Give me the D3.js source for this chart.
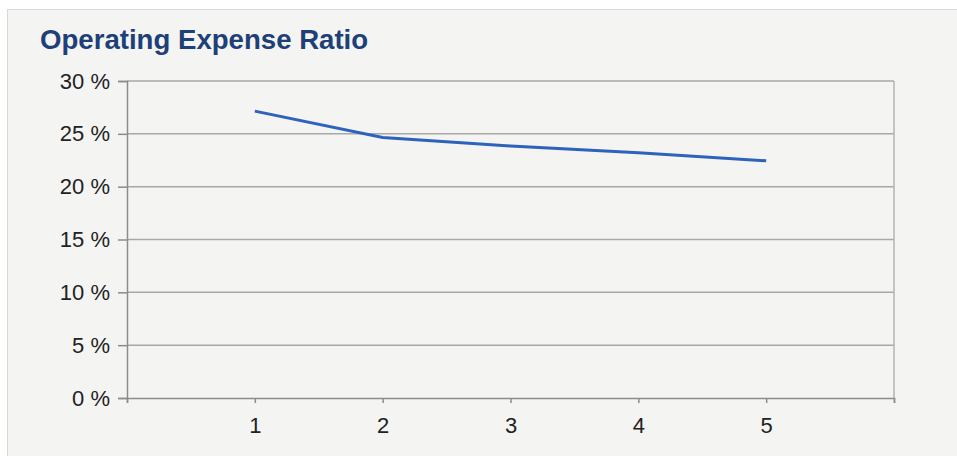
<!DOCTYPE html>
<html>
<head>
<meta charset="utf-8">
<script src="https://cdn.jsdelivr.net/npm/d3@7"></script>
<style>
  body { margin: 0; background: #ffffff; }
  text { font-family: "Liberation Sans", Arial, sans-serif; }
</style>
</head>
<body>
<script>
// chart data
var years = [1, 2, 3, 4, 5];
var ratio = [27.15, 24.65, 23.85, 23.2, 22.45];
var yTicks = [0, 5, 10, 15, 20, 25, 30];
var title = "Operating Expense Ratio";

var width = 957, height = 456;
var margin = {top: 81, right: 63, bottom: 58, left: 127};

var svg = d3.select("body").append("svg")
  .attr("width", width).attr("height", height);

// panel background + border
svg.append("rect")
  .attr("x", 7.5).attr("y", 9.5)
  .attr("width", width - 7).attr("height", height)
  .attr("fill", "#f4f4f2")
  .attr("stroke", "#d8d8d8");

var x = d3.scaleLinear().domain([0, 6]).range([margin.left, width - margin.right]);
var y = d3.scaleLinear().domain([0, 30]).range([height - margin.bottom, margin.top]);

// gridlines
svg.append("g").selectAll("line")
  .data(yTicks.slice(1))
  .enter().append("line")
  .attr("x1", x(0)).attr("x2", x(6))
  .attr("y1", function(d) { return y(d); })
  .attr("y2", function(d) { return y(d); })
  .attr("stroke", "#a8a8a8").attr("stroke-width", 1.5);

// right border of plot
svg.append("line")
  .attr("x1", x(6)).attr("x2", x(6))
  .attr("y1", y(30)).attr("y2", y(0))
  .attr("stroke", "#b4b4b4").attr("stroke-width", 1.5);

// y axis
var yAxis = d3.axisLeft(y).tickValues(yTicks)
  .tickFormat(function(d) { return d + " %"; })
  .tickSize(9).tickPadding(8);
var gy = svg.append("g")
  .attr("transform", "translate(" + x(0) + ",0)")
  .call(yAxis);

// x axis
var xAxis = d3.axisBottom(x).tickValues([0, 1, 2, 3, 4, 5, 6])
  .tickFormat(function(d) { return years.indexOf(d) >= 0 ? d : ""; })
  .tickSize(5).tickPadding(14);
var gx = svg.append("g")
  .attr("transform", "translate(0," + y(0) + ")")
  .call(xAxis);

[gx, gy].forEach(function(g) {
  g.select(".domain").attr("stroke", "#8c8c8c").attr("stroke-width", 1.5);
  g.selectAll(".tick line").attr("stroke", "#8c8c8c").attr("stroke-width", 1.5);
  g.selectAll(".tick text")
    .attr("fill", "#222222")
    .style("font-size", "22px")
    .style("font-family", "'Liberation Sans', Arial, sans-serif");
});

// line
var line = d3.line()
  .x(function(d, i) { return x(years[i]); })
  .y(function(d) { return y(d); });

svg.append("path")
  .datum(ratio)
  .attr("d", line)
  .attr("fill", "none")
  .attr("stroke", "#2d62bd")
  .attr("stroke-width", 3);

// title
svg.append("text")
  .attr("x", 40).attr("y", 49)
  .attr("fill", "#1e3f78")
  .style("font-size", "27.6px")
  .style("font-weight", "bold")
  .text(title);
</script>
</body>
</html>
